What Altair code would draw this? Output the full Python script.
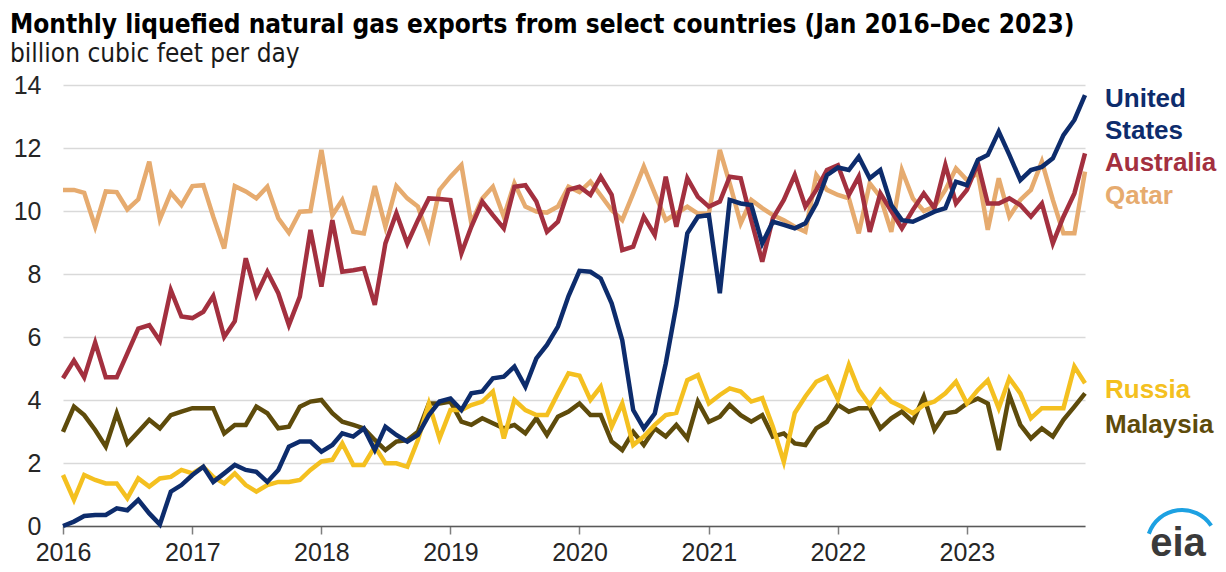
import altair as alt
import pandas as pd

months = pd.date_range("2016-01-01", periods=96, freq="MS")

united_states = [
    0.0, 0.14, 0.32, 0.35, 0.35, 0.56, 0.5, 0.83, 0.4, 0.05, 1.09, 1.3,
    1.62, 1.88, 1.4, 1.67, 1.94, 1.78, 1.72, 1.4, 1.78, 2.52, 2.68, 2.68,
    2.36, 2.57, 2.94, 2.84, 3.1, 2.41, 3.15, 2.89, 2.68, 2.89, 3.52, 3.95,
    4.05, 3.68, 4.21, 4.27, 4.69, 4.74, 5.06, 4.42, 5.32, 5.75, 6.33, 7.3,
    8.1, 8.07, 7.86, 7.07, 5.9, 3.68, 3.1, 3.57, 5.16, 7.0, 9.29, 9.82,
    9.87, 7.39, 10.35, 10.24, 10.19, 8.97, 9.66, 9.56, 9.45, 9.61, 10.24, 11.14,
    11.38, 11.3, 11.72, 11.04, 11.3, 10.19, 9.71, 9.66, 9.82, 9.98, 10.09, 10.93,
    10.82, 11.62, 11.78, 12.52, 11.78, 10.98, 11.3, 11.4, 11.67, 12.41, 12.89, 13.68,
]
australia = [
    4.69, 5.25, 4.72, 5.82, 4.72, 4.72, 5.48, 6.27, 6.38, 5.88, 7.49, 6.65,
    6.6, 6.8, 7.3, 6.0, 6.5, 8.5, 7.33, 8.07, 7.39, 6.38, 7.28, 9.4,
    7.6, 9.71, 8.07, 8.12, 8.18, 7.02, 8.97, 9.93, 8.97, 9.71, 10.4, 10.38,
    10.35, 8.66, 9.5, 10.3, 9.87, 9.45, 10.77, 10.82, 10.3, 9.34, 9.66, 10.67,
    10.77, 10.51, 11.09, 10.51, 8.76, 8.87, 9.82, 9.24, 11.09, 9.5, 11.04, 10.45,
    10.14, 10.3, 11.09, 11.04, 9.71, 8.39, 9.77, 10.35, 11.14, 10.14, 10.67, 11.3,
    11.45, 10.51, 11.09, 9.34, 10.56, 10.0, 9.45, 10.03, 10.56, 10.09, 11.46, 10.24,
    10.67, 11.51, 10.24, 10.24, 10.4, 10.19, 9.82, 10.24, 8.97, 9.82, 10.56, 11.83,
]
qatar = [
    10.67, 10.67, 10.58, 9.5, 10.62, 10.6, 10.05, 10.37, 11.57, 9.74, 10.58, 10.19,
    10.79, 10.82, 9.82, 8.81, 10.79, 10.62, 10.4, 10.77, 9.77, 9.31, 9.98, 10.0,
    11.94, 9.87, 10.35, 9.34, 9.29, 10.79, 9.5, 10.79, 10.4, 10.14, 9.13, 10.67,
    11.09, 11.46, 9.61, 10.4, 10.77, 9.82, 10.88, 10.14, 9.98, 9.95, 10.14, 10.77,
    10.6, 10.93, 10.5, 10.03, 9.71, 10.56, 11.41, 10.56, 9.71, 9.92, 10.14, 9.92,
    9.92, 11.94, 10.88, 9.61, 10.35, 10.09, 9.87, 9.71, 9.5, 9.34, 11.14, 10.67,
    10.51, 10.4, 9.29, 10.88, 10.45, 9.34, 11.3, 10.4, 10.0, 10.14, 10.67, 11.35,
    10.98, 11.2, 9.4, 11.04, 9.82, 10.35, 10.67, 11.57, 10.35, 9.29, 9.29, 11.25,
]
russia = [
    1.62, 0.83, 1.62, 1.46, 1.35, 1.35, 0.88, 1.51, 1.25, 1.51, 1.56, 1.78,
    1.67, 1.88, 1.56, 1.35, 1.67, 1.3, 1.09, 1.3, 1.4, 1.4, 1.46, 1.78,
    2.05, 2.1, 2.62, 1.94, 1.94, 2.52, 1.99, 1.99, 1.88, 2.73, 3.89, 2.78,
    3.68, 3.68, 3.84, 3.95, 4.27, 2.78, 4.0, 3.68, 3.52, 3.52, 4.21, 4.85,
    4.77, 4.0, 4.42, 3.15, 3.89, 2.57, 2.84, 3.21, 3.52, 3.59, 4.63, 4.79,
    3.89, 4.16, 4.37, 4.27, 3.95, 4.06, 3.15, 2.04, 3.59, 4.11, 4.58, 4.74,
    4.02, 5.11, 4.32, 3.84, 4.32, 3.95, 3.79, 3.58, 3.84, 3.95, 4.21, 4.58,
    3.89, 4.32, 4.63, 3.74, 4.69, 4.21, 3.42, 3.74, 3.74, 3.74, 5.06, 4.53,
]
malaysia = [
    2.99, 3.79, 3.52, 3.05, 2.52, 3.58, 2.62, 2.99, 3.37, 3.1, 3.52, 3.63,
    3.74, 3.74, 3.74, 2.94, 3.21, 3.21, 3.79, 3.58, 3.1, 3.15, 3.79, 3.95,
    4.0, 3.58, 3.31, 3.21, 3.1, 2.73, 2.41, 2.68, 2.73, 2.99, 3.89, 3.89,
    3.95, 3.31, 3.21, 3.42, 3.26, 3.1, 3.21, 2.94, 3.42, 2.89, 3.47, 3.63,
    3.89, 3.52, 3.52, 2.68, 2.41, 2.99, 2.57, 3.1, 2.84, 3.21, 2.78, 3.95,
    3.31, 3.47, 3.84, 3.52, 3.31, 3.52, 2.84, 2.94, 2.62, 2.57, 3.1, 3.31,
    3.85, 3.63, 3.74, 3.74, 3.1, 3.42, 3.63, 3.31, 4.11, 3.05, 3.58, 3.63,
    3.89, 4.05, 3.89, 2.41, 4.16, 3.21, 2.78, 3.1, 2.84, 3.37, 3.79, 4.21,
]

countries = ["United States", "Australia", "Qatar", "Russia", "Malaysia"]
palette = ["#0d2c6c", "#a3303f", "#e6ab6f", "#f4c020", "#5e4b0b"]
draw_order = ["Qatar", "Malaysia", "Russia", "Australia", "United States"]

label_text = ["United", "States", "Australia", "Qatar", "Russia", "Malaysia"]
label_country = ["United States", "United States", "Australia", "Qatar", "Russia", "Malaysia"]
label_y = [13.3, 12.29, 11.27, 10.22, 4.06, 2.95]

year_ticks = list(range(2016, 2024))
y_ticks = list(range(0, 15, 2))

series = {
    "United States": united_states,
    "Australia": australia,
    "Qatar": qatar,
    "Russia": russia,
    "Malaysia": malaysia,
}
rows = []
for name, vals in series.items():
    for d, v in zip(months, vals):
        rows.append({"date": d, "country": name, "value": v})
df = pd.DataFrame(rows)
lab_df = pd.DataFrame({"text": label_text, "country": label_country, "y": label_y})

W, H = 1022, 441
SANS = "Liberation Sans, Arial, sans-serif"
NARROW = "Liberation Sans Narrow, Arial Narrow, DejaVu Sans Condensed, sans-serif"

color_scale = alt.Scale(domain=countries, range=palette)
y_scale = alt.Scale(domain=[0, 14], nice=False)
x_scale = alt.Scale(domain=[alt.DateTime(year=2016, month=1, date=1),
                            alt.DateTime(year=2023, month=12, date=1)])

x_enc = alt.X(
    "date:T",
    scale=x_scale,
    axis=alt.Axis(
        title=None, format="%Y", grid=False,
        values=[alt.DateTime(year=y, month=1, date=1) for y in year_ticks],
        domainColor="#595959", domainWidth=1.5,
        tickColor="#7f7f7f", tickSize=8, tickWidth=1.5,
        labelFontSize=25, labelFont=SANS, labelColor="#262626",
        labelPadding=6, labelAlign="center", labelFlush=False,
    ),
)
y_enc = alt.Y(
    "value:Q",
    scale=y_scale,
    axis=alt.Axis(
        title=None, values=y_ticks, domain=False, ticks=False,
        gridColor="#d9d9d9", gridWidth=1.5,
        labelFontSize=25, labelFont=SANS, labelColor="#262626",
        labelPadding=22,
    ),
)

layers = []
for c in draw_order:
    layers.append(
        alt.Chart(df)
        .transform_filter(alt.datum.country == c)
        .mark_line(strokeWidth=4.5)
        .encode(
            x=x_enc,
            y=y_enc,
            color=alt.Color("country:N", scale=color_scale, legend=None),
        )
    )

labels = (
    alt.Chart(lab_df)
    .mark_text(align="left", baseline="alphabetic", fontSize=26,
               fontWeight="bold", font=SANS)
    .encode(
        x=alt.value(W + 20),
        y=alt.Y("y:Q", scale=y_scale),
        text="text:N",
        color=alt.Color("country:N", scale=color_scale, legend=None),
    )
)

logo_df = pd.DataFrame({"t": ["eia"]})
logo_arc = (
    alt.Chart(logo_df)
    .mark_arc(innerRadius=33, outerRadius=37, theta=5.04, theta2=7.27,
              x=W + 97, y=H + 19)
    .encode(color=alt.value("#1da1e2"))
)
logo_text = (
    alt.Chart(logo_df)
    .mark_text(fontSize=40, fontWeight="bold", font=SANS, align="center",
               baseline="alphabetic")
    .encode(text="t:N", x=alt.value(W + 93), y=alt.value(H + 30),
            color=alt.value("#3a3a3a"))
)

chart = (
    alt.layer(*layers, labels, logo_arc, logo_text)
    .properties(
        width=W,
        height=H,
        title=alt.TitleParams(
            text="Monthly liquefied natural gas exports from select countries (Jan 2016\u2013Dec 2023)",
            subtitle="billion cubic feet per day",
            anchor="start", frame="group", dx=-53, offset=6,
            font=NARROW, fontSize=26, fontWeight="bold", color="#000000",
            subtitleFont=NARROW, subtitleFontSize=26, subtitleColor="#1a1a1a",
            subtitlePadding=3,
        ),
        autosize=alt.AutoSizeParams(type="none"),
        padding={"left": 55, "top": 77, "right": 133, "bottom": 38},
    )
    .configure_view(stroke=None)
)

chart.save("out.html", embed_options={"renderer": "svg", "actions": False})
